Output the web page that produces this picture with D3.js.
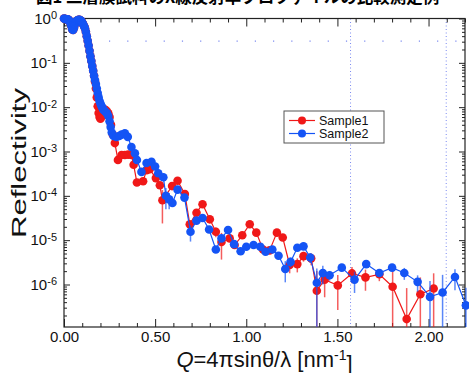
<!DOCTYPE html>
<html>
<head>
<meta charset="utf-8">
<script src="https://cdn.jsdelivr.net/npm/d3@7"></script>
<style>
  html, body { margin: 0; padding: 0; background: #fff; }
  svg { display: block; font-family: "Liberation Sans", Arial, sans-serif; }
</style>
</head>
<body>
<svg id="chart" width="469" height="373"></svg>
<script>
// [Q (nm^-1), log10(reflectivity), relative error]
const sample1 = [
  [0.000, 0.00, .03], [0.005, -0.01, .03], [0.010, -0.01, .03], [0.015, -0.02, .03],
  [0.020, -0.02, .03], [0.025, -0.03, .03], [0.030, -0.05, .03], [0.035, -0.10, .03],
  [0.040, -0.17, .03], [0.045, -0.24, .03], [0.050, -0.26, .03], [0.055, -0.21, .03],
  [0.060, -0.13, .03], [0.065, -0.08, .03], [0.070, -0.05, .03], [0.075, -0.04, .03],
  [0.080, -0.03, .03], [0.085, -0.03, .03], [0.090, -0.04, .03], [0.095, -0.06, .03],
  [0.100, -0.09, .03], [0.105, -0.13, .03], [0.110, -0.17, .03], [0.115, -0.22, .03],
  [0.120, -0.30, .03], [0.125, -0.40, .03], [0.130, -0.50, .03], [0.135, -0.61, .03],
  [0.140, -0.73, .03], [0.145, -0.85, .03], [0.150, -0.96, .03], [0.155, -1.07, .03],
  [0.160, -1.18, .03], [0.165, -1.29, .03], [0.170, -1.42, .04], [0.175, -1.58, .04],
  [0.180, -1.78, .04], [0.185, -1.98, .05], [0.190, -2.13, .05], [0.195, -2.22, .05],
  [0.200, -2.26, .05], [0.205, -2.22, .05], [0.210, -2.16, .05], [0.215, -2.08, .05],
  [0.222, -2.05, .05], [0.229, -2.07, .05], [0.236, -2.10, .05], [0.243, -2.14, .05],
  [0.250, -2.22, .05], [0.258, -2.40, .06], [0.268, -2.62, .06], [0.279, -2.81, .06],
  [0.296, -3.19, .08], [0.316, -3.08, .08], [0.334, -3.08, .08], [0.352, -3.07, .08],
  [0.370, -3.08, .08], [0.382, -3.30, .10], [0.400, -3.70, .15], [0.434, -3.67, .15],
  [0.453, -3.42, .10], [0.470, -3.40, .10], [0.504, -3.60, .10], [0.526, -3.76, .15],
  [0.540, -4.10, .70], [0.593, -3.78, .15], [0.623, -3.66, .15], [0.663, -3.96, .20],
  [0.690, -4.64, .20], [0.727, -4.38, .20], [0.760, -4.19, .15], [0.800, -4.53, .20],
  [0.833, -4.81, .25], [0.864, -5.04, .60], [0.909, -4.96, .20], [0.936, -5.11, .20],
  [0.978, -4.89, .20], [1.019, -4.64, .20], [1.055, -4.83, .20], [1.092, -5.21, .20],
  [1.128, -5.23, .20], [1.168, -4.83, .20], [1.200, -4.94, .20], [1.238, -5.56, .35],
  [1.280, -5.54, .35], [1.314, -5.36, .25], [1.356, -5.41, .30], [1.387, -6.14, 1.8],
  [1.430, -5.89, .60], [1.502, -6.02, .72], [1.580, -5.75, .40], [1.654, -5.84, .50],
  [1.730, -5.77, .30], [1.803, -6.05, 1.3], [1.880, -6.78, 4.0], [1.955, -6.22, 1.4],
  [2.028, -6.09, 1.2]
];

const sample2 = [
  [0.000, 0.00, .03], [0.005, -0.01, .03], [0.010, -0.01, .03], [0.015, -0.02, .03],
  [0.020, -0.02, .03], [0.025, -0.03, .03], [0.030, -0.05, .03], [0.035, -0.10, .03],
  [0.040, -0.17, .03], [0.045, -0.24, .03], [0.050, -0.26, .03], [0.055, -0.21, .03],
  [0.060, -0.13, .03], [0.065, -0.08, .03], [0.070, -0.05, .03], [0.075, -0.04, .03],
  [0.080, -0.03, .03], [0.085, -0.03, .03], [0.090, -0.04, .03], [0.095, -0.06, .03],
  [0.100, -0.09, .03], [0.105, -0.13, .03], [0.110, -0.17, .03], [0.115, -0.22, .03],
  [0.120, -0.30, .03], [0.125, -0.40, .03], [0.130, -0.50, .03], [0.135, -0.61, .03],
  [0.140, -0.73, .03], [0.145, -0.85, .03], [0.150, -0.96, .03], [0.155, -1.07, .03],
  [0.160, -1.18, .03], [0.165, -1.29, .03], [0.170, -1.39, .04], [0.175, -1.48, .04],
  [0.180, -1.58, .04], [0.185, -1.68, .04], [0.190, -1.78, .05], [0.195, -1.86, .05],
  [0.200, -1.92, .05], [0.205, -1.97, .05], [0.210, -2.01, .05], [0.215, -2.05, .05],
  [0.222, -2.08, .05], [0.229, -2.11, .05], [0.236, -2.14, .05], [0.243, -2.20, .05],
  [0.250, -2.32, .05], [0.256, -2.45, .06], [0.262, -2.57, .06], [0.272, -2.65, .06],
  [0.288, -2.67, .06], [0.303, -2.65, .06], [0.316, -2.62, .06], [0.334, -2.59, .06],
  [0.350, -2.67, .06], [0.370, -2.90, .08], [0.389, -3.04, .08], [0.400, -3.19, .08],
  [0.425, -3.46, .10], [0.453, -3.26, .10], [0.480, -3.23, .10], [0.500, -3.34, .10],
  [0.517, -3.49, .10], [0.545, -3.58, .15], [0.559, -4.00, .50], [0.577, -4.08, .40],
  [0.595, -4.16, .20], [0.623, -3.86, .15], [0.661, -4.04, .15], [0.694, -4.81, .40],
  [0.727, -4.56, .20], [0.760, -4.50, .20], [0.796, -4.76, .20], [0.833, -5.21, .20],
  [0.864, -4.96, .20], [0.900, -4.77, .20], [0.933, -5.09, .20], [0.969, -5.25, .20],
  [1.000, -5.15, .20], [1.040, -5.11, .20], [1.077, -5.15, .20], [1.106, -5.26, .20],
  [1.143, -5.21, .20], [1.177, -5.35, .20], [1.214, -5.65, .50], [1.243, -5.49, .25],
  [1.280, -5.17, .20], [1.314, -5.14, .20], [1.351, -5.39, .25], [1.387, -5.96, 1.1],
  [1.420, -5.74, .45], [1.457, -5.79, .25], [1.524, -5.62, .20], [1.594, -5.89, .50],
  [1.658, -5.54, .20], [1.730, -5.74, .20], [1.800, -5.62, .20], [1.867, -5.74, .30],
  [1.940, -5.94, .40], [2.008, -6.28, 1.3], [2.077, -6.18, 1.5], [2.145, -5.83, .50],
  [2.205, -6.47, 1.5]
];

const seriesNames = ['Sample1', 'Sample2'];
const seriesColors = ['#f01818', '#1454f5'];
const xMajorTicks = [0, 0.5, 1.0, 1.5, 2.0];
const yExponents = [0, -1, -2, -3, -4, -5, -6];
const refLevels = [0.31];          // horizontal dotted guide
const refQ = [1.572, 2.097];       // vertical dotted guides
const qDomain = [0, 2.2];
const rDomain = [1.1e-7, 1];

const svg = d3.select('#chart');
const plotL = 64, plotR = 465, plotT = 18.5, plotB = 327;

const x = d3.scaleLinear().domain(qDomain).range([plotL, plotR]);
const y = d3.scaleLog().domain(rDomain).range([plotB, plotT]);

// cut-off caption at the top
svg.append('text')
  .attr('x', 36).attr('y', 3)
  .style('font-family', '"Noto Sans CJK JP", sans-serif')
  .style('font-size', '16.5px').style('font-weight', 'bold')
  .text('図1 二層膜試料のX線反射率プロファイルの比較測定例');

// guides
svg.append('g').selectAll('line')
  .data(refLevels).join('line')
  .attr('x1', x(0.15) - 0.6).attr('x2', plotR)
  .attr('y1', d => y(d)).attr('y2', d => y(d))
  .attr('stroke', '#7b8af0').attr('stroke-width', 1.2)
  .attr('stroke-dasharray', `1.2,${x(0.1) - x(0) - 1.2}`);

svg.append('g').selectAll('line')
  .data(refQ).join('line')
  .attr('x1', d => x(d)).attr('x2', d => x(d))
  .attr('y1', plotT).attr('y2', plotB)
  .attr('stroke', '#7b8af0').attr('stroke-width', 1)
  .attr('stroke-dasharray', '1,2.5');

// minor tick values
const xMinor = d3.range(0, 2.21, 0.1).filter(v => Math.abs(v * 2 - Math.round(v * 2)) > 1e-6);
const yMinor = [];
for (let e = -7; e < 0; e++) for (let m = 2; m <= 9; m++) {
  const v = m * Math.pow(10, e);
  if (v >= rDomain[0] && v <= 1) yMinor.push(v);
}
const yMajor = yExponents.map(e => Math.pow(10, e));

function axisG(axis, tx, ty) {
  const g = svg.append('g').attr('transform', `translate(${tx},${ty})`).call(axis);
  g.select('.domain').remove();
  g.selectAll('line').attr('stroke', '#222');
  return g;
}

axisG(d3.axisBottom(x).tickValues(xMinor).tickSize(-4).tickFormat(''), 0, plotB);
axisG(d3.axisTop(x).tickValues(xMinor).tickSize(-4).tickFormat(''), 0, plotT);
axisG(d3.axisTop(x).tickValues(xMajorTicks).tickSize(-8).tickFormat(''), 0, plotT);
const xb = axisG(d3.axisBottom(x).tickValues(xMajorTicks).tickSize(-8).tickPadding(4)
  .tickFormat(d3.format('.2f')), 0, plotB);
xb.selectAll('text').attr('fill', '#111').style('font-size', '15px');

axisG(d3.axisLeft(y).tickValues(yMinor).tickSize(-3).tickFormat(''), plotL, 0);
axisG(d3.axisRight(y).tickValues(yMinor).tickSize(-3).tickFormat(''), plotR, 0);
axisG(d3.axisRight(y).tickValues(yMajor).tickSize(-6).tickFormat(''), plotR, 0);
const yl = axisG(d3.axisLeft(y).tickValues(yMajor).tickSize(-6).tickPadding(7).tickFormat(''), plotL, 0);
yl.selectAll('text').each(function (d) {
  const t = d3.select(this).attr('fill', '#111').style('font-size', '15px');
  t.append('tspan').text('10');
  t.append('tspan').attr('dy', '-0.45em').style('font-size', '11px').text(Math.round(Math.log10(d)));
});

// frame
svg.append('rect')
  .attr('x', plotL).attr('y', plotT)
  .attr('width', plotR - plotL).attr('height', plotB - plotT)
  .attr('fill', 'none').attr('stroke', '#222').attr('stroke-width', 1.2);

// series
const line = d3.line().x(d => x(d[0])).y(d => y(Math.pow(10, d[1])));
[sample1, sample2].forEach((data, i) => {
  const c = seriesColors[i];
  const g = svg.append('g');
  g.selectAll('line').data(data.filter(d => d[2] > 0.22)).join('line')
    .attr('x1', d => x(d[0])).attr('x2', d => x(d[0]))
    .attr('y1', d => {
      const r = Math.pow(10, d[1]);
      return y(Math.min(1, r * (1 + d[2])));
    })
    .attr('y2', d => {
      const r = Math.pow(10, d[1]);
      const lo = r * (1 - d[2]);
      return lo <= rDomain[0] ? plotB : y(lo);
    })
    .attr('stroke', c).attr('stroke-opacity', 0.7).attr('stroke-width', 1.5);
  g.append('path').datum(data).attr('d', line)
    .attr('fill', 'none').attr('stroke', c).attr('stroke-width', 1.2);
  g.selectAll('circle').data(data).join('circle')
    .attr('cx', d => x(d[0])).attr('cy', d => y(Math.pow(10, d[1])))
    .attr('r', 4.3).attr('fill', c);
});

// legend
const lg = svg.append('g').attr('transform', 'translate(284,111)');
lg.append('rect').attr('width', 100).attr('height', 32)
  .attr('fill', '#fff').attr('stroke', '#555').attr('stroke-width', 1);
seriesNames.forEach((name, i) => {
  const yy = 9.5 + i * 13;
  lg.append('line').attr('x1', 5).attr('x2', 31).attr('y1', yy).attr('y2', yy)
    .attr('stroke', seriesColors[i]).attr('stroke-width', 1.2);
  lg.append('circle').attr('cx', 18).attr('cy', yy).attr('r', 4).attr('fill', seriesColors[i]);
  lg.append('text').attr('x', 35).attr('y', yy + 4.3)
    .style('font-size', '12.5px').attr('fill', '#111').text(name);
});

// axis titles
const xt = svg.append('text')
  .attr('x', (plotL + plotR) / 2).attr('y', 367)
  .attr('text-anchor', 'middle').style('font-size', '22px').attr('fill', '#111');
xt.append('tspan').style('font-style', 'italic').text('Q');
xt.append('tspan').text('=4πsinθ/λ [nm');
xt.append('tspan').attr('dy', '-0.5em').style('font-size', '14px').text('-1');
xt.append('tspan').attr('dy', '0.5em').text(']');

svg.append('text')
  .attr('transform', `translate(26,163) rotate(-90)`)
  .attr('text-anchor', 'middle').style('font-size', '21px').attr('fill', '#111')
  .attr('textLength', 150).attr('lengthAdjust', 'spacingAndGlyphs')
  .text('Reflectivity');
</script>
</body>
</html>
